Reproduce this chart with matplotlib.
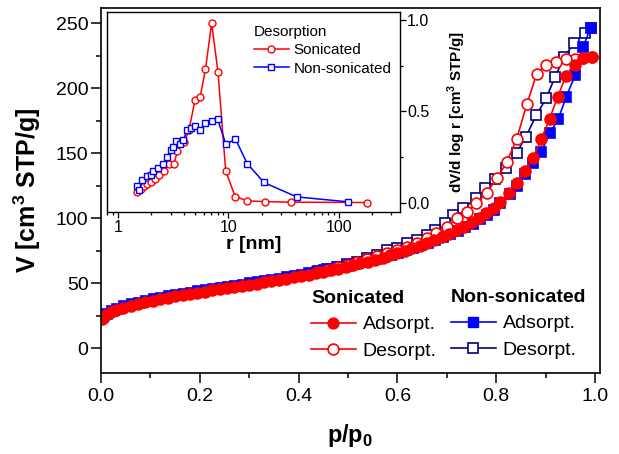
import numpy as np
import matplotlib
matplotlib.use('Agg')
from matplotlib import pyplot as plt
from matplotlib.ticker import MultipleLocator, FormatStrFormatter, FixedLocator, LogLocator, NullFormatter

plt.rcParams['font.family'] = ['Liberation Sans', 'DejaVu Sans']
plt.rcParams['mathtext.fontset'] = 'custom'
plt.rcParams['mathtext.rm'] = 'Liberation Sans'
plt.rcParams['mathtext.bf'] = 'Liberation Sans:bold'

# colours
red = '#FF0000'
blue = '#0000FF'
navy = '#000080'

# Isotherm, sonicated - adsorption
son_ads_p = [0.003, 0.01, 0.02, 0.03, 0.045, 0.06, 0.075, 0.09, 0.105, 0.12, 0.135, 0.15,
             0.165, 0.18, 0.195, 0.21, 0.225, 0.24, 0.255, 0.27, 0.285, 0.30, 0.315, 0.33,
             0.345, 0.36, 0.375, 0.39, 0.405, 0.42, 0.435, 0.45, 0.465, 0.48, 0.495, 0.51,
             0.525, 0.54, 0.555, 0.57, 0.585, 0.60, 0.615, 0.63, 0.645, 0.66, 0.675, 0.69,
             0.705, 0.72, 0.735, 0.75, 0.765, 0.78, 0.795, 0.808, 0.825, 0.841, 0.858, 0.875,
             0.891, 0.908, 0.924, 0.941, 0.960, 0.976, 0.993]
son_ads_v = [22.5, 25.5, 27.5, 29.0, 31.0, 32.6, 34.0, 35.3, 36.5, 37.7, 38.8, 39.8,
             40.8, 41.7, 42.6, 43.5, 44.3, 45.2, 46.0, 46.9, 47.8, 48.7, 49.6, 50.5,
             51.4, 52.4, 53.4, 54.4, 55.4, 56.5, 57.6, 58.7, 59.9, 61.1, 62.4, 63.7,
             65.1, 66.5, 68.0, 69.6, 71.2, 72.9, 74.7, 76.6, 78.6, 80.7, 82.9, 85.3,
             87.8, 90.5, 93.4, 96.6, 100.0, 103.6, 107.5, 112.0, 119.0, 127.0, 136.0, 146.4,
             160.5, 176.6, 192.8, 209.4, 218.0, 222.8, 224.0]

# Isotherm, sonicated - desorption
son_des_p = [0.993, 0.976, 0.960, 0.941, 0.921, 0.901, 0.882, 0.862, 0.841, 0.821, 0.801,
             0.781, 0.760, 0.740, 0.720, 0.700, 0.679, 0.659, 0.639, 0.619, 0.599, 0.579,
             0.559, 0.539, 0.519, 0.499, 0.479, 0.459, 0.440]
son_des_v = [224.0, 223.0, 222.5, 222.0, 220.2, 217.6, 211.2, 187.6, 160.5, 142.8, 130.5,
             119.5, 111.3, 104.8, 99.7, 93.3, 88.2, 84.4, 81.0, 78.0, 75.5, 73.0,
             70.5, 68.3, 66.2, 64.2, 62.2, 60.3, 58.6]

# Isotherm, non-sonicated - adsorption
non_ads_p = [0.005, 0.012, 0.022, 0.032, 0.047, 0.062, 0.077, 0.092, 0.107, 0.122, 0.137, 0.152,
             0.167, 0.182, 0.197, 0.212, 0.227, 0.242, 0.257, 0.272, 0.287, 0.302, 0.317, 0.332,
             0.347, 0.362, 0.377, 0.392, 0.407, 0.422, 0.437, 0.452, 0.467, 0.482, 0.497, 0.512,
             0.527, 0.542, 0.557, 0.572, 0.587, 0.602, 0.617, 0.632, 0.647, 0.662, 0.677, 0.692,
             0.707, 0.722, 0.737, 0.752, 0.767, 0.782, 0.795, 0.808, 0.827, 0.841, 0.858, 0.875,
             0.891, 0.909, 0.926, 0.941, 0.960, 0.976, 0.991]
non_ads_v = [23.8, 26.5, 28.4, 30.0, 32.0, 33.6, 35.0, 36.3, 37.5, 38.7, 39.8, 40.8,
             41.8, 42.7, 43.6, 44.5, 45.3, 46.2, 47.0, 47.9, 48.8, 49.7, 50.6, 51.5,
             52.4, 53.4, 54.4, 55.4, 56.4, 57.5, 58.6, 59.7, 60.9, 62.1, 63.3, 64.6,
             66.0, 67.4, 68.8, 70.3, 71.9, 73.5, 75.2, 77.0, 78.9, 80.9, 83.0, 85.2,
             87.6, 90.1, 92.8, 95.8, 99.0, 102.6, 106.5, 111.7, 118.4, 124.6, 133.8, 142.5,
             151.0, 165.6, 176.6, 192.8, 210.0, 231.7, 246.6]

# Isotherm, non-sonicated - desorption
non_des_p = [0.991, 0.980, 0.958, 0.938, 0.919, 0.901, 0.881, 0.860, 0.841, 0.820, 0.798,
             0.777, 0.759, 0.733, 0.713, 0.696, 0.676, 0.659, 0.639, 0.619, 0.599, 0.578,
             0.558, 0.538, 0.518, 0.498, 0.478, 0.458, 0.440]
non_des_v = [246.6, 242.5, 235.0, 224.0, 208.6, 192.0, 179.2, 162.5, 150.2, 138.2, 129.7,
             122.8, 115.1, 107.4, 102.3, 96.4, 90.7, 86.9, 83.0, 80.5, 76.7, 75.4,
             71.5, 69.0, 66.4, 64.5, 62.5, 60.5, 59.0]

# Inset: pore size distribution (desorption)
psd_son_r = [1.50, 1.60, 1.72, 1.85, 2.0, 2.15, 2.35, 2.6, 2.9, 3.2, 3.45, 3.7, 4.0,
             4.4, 5.0, 5.55, 6.2, 7.05, 8.05, 9.45, 11.5, 14.9, 21.4, 36.6, 180.0]
psd_son_v = [0.06, 0.075, 0.09, 0.10, 0.115, 0.13, 0.15, 0.175, 0.21, 0.21, 0.28, 0.33, 0.33,
             0.40, 0.565, 0.58, 0.73, 0.985, 0.716, 0.175, 0.033, 0.009, 0.005, 0.002, 0.0]
psd_non_r = [1.50, 1.56, 1.66, 1.82, 1.98, 2.09, 2.28, 2.55, 2.77, 3.01, 3.18, 3.37, 3.66,
             3.92, 4.21, 4.58, 5.01, 5.48, 6.17, 7.05, 8.0, 9.5, 11.6, 14.8, 21.0, 41.5, 120.0]
psd_non_v = [0.088, 0.07, 0.121, 0.148, 0.15, 0.172, 0.19, 0.209, 0.249, 0.286, 0.304, 0.337,
             0.319, 0.344, 0.396, 0.408, 0.421, 0.396, 0.434, 0.445, 0.456, 0.319, 0.348,
             0.214, 0.11, 0.031, 0.004]

fig = plt.figure(figsize=(6.19, 4.54), dpi=100)
ax = fig.add_axes([101/619, 1-373/454, 499/619, 365.5/454])

ms_c = 7.8
ms_s = 6.6
mew = 1.2
lw = 1.2
ax.plot(non_des_p, non_des_v, '-', color=navy, lw=lw, marker='s', ms=ms_s, mfc='white', mec=navy, mew=mew)
ax.plot(non_ads_p, non_ads_v, '-', color=blue, lw=lw, marker='s', ms=ms_s, mfc=blue, mec=blue, mew=mew)
ax.plot(son_des_p, son_des_v, '-', color=red, lw=lw, marker='o', ms=ms_c, mfc='white', mec=red, mew=mew)
ax.plot(son_ads_p, son_ads_v, '-', color=red, lw=lw, marker='o', ms=ms_c, mfc=red, mec=red, mew=mew)

ax.set_xlim(0, 1.01)
ax.set_ylim(-19.2, 262)
ax.xaxis.set_major_locator(MultipleLocator(0.2))
ax.xaxis.set_minor_locator(MultipleLocator(0.1))
ax.xaxis.set_major_formatter(FormatStrFormatter('%.1f'))
ax.yaxis.set_major_locator(MultipleLocator(50))
ax.yaxis.set_minor_locator(MultipleLocator(25))
ax.tick_params(which='both', direction='out', top=False, right=False, labelsize=14)
ax.tick_params(which='major', length=7, width=1.1)
ax.tick_params(which='minor', length=3.5, width=1.1)
ax.tick_params(axis='x', pad=4)
ax.tick_params(axis='y', pad=2)
for s in ax.spines.values():
    s.set_linewidth(1.2)
ax.set_xlabel('p/p$_{\\mathbf{0}}$', fontsize=17, fontweight='bold', labelpad=12)
ax.set_ylabel('V [cm$^{\\mathbf{3}}$ STP/g]', fontsize=18, fontweight='bold')
ax.yaxis.set_label_coords(-0.116, 0.5)

# legends (two columns)
h_sa, = ax.plot([], [], '-', color=red, lw=lw, marker='o', ms=ms_c, mfc=red, mec=red)
h_sd, = ax.plot([], [], '-', color=red, lw=lw, marker='o', ms=ms_c, mfc='white', mec=red, mew=mew)
h_na, = ax.plot([], [], '-', color=blue, lw=lw, marker='s', ms=ms_s, mfc=blue, mec=blue)
h_nd, = ax.plot([], [], '-', color=navy, lw=lw, marker='s', ms=ms_s, mfc='white', mec=navy, mew=mew)

leg_kw = dict(frameon=False, fontsize=14, handlelength=2.3, handletextpad=0.35,
              labelspacing=0.45, borderpad=0, borderaxespad=0, alignment='left',
              loc='upper left', bbox_transform=fig.transFigure,
              title_fontproperties={'weight': 'bold', 'size': 14})
leg1 = ax.legend([h_sa, h_sd], ['Adsorpt.', 'Desorpt.'], title='Sonicated',
                 bbox_to_anchor=(311/619, 1-290/454), **leg_kw)
ax.add_artist(leg1)
ax.legend([h_na, h_nd], ['Adsorpt.', 'Desorpt.'], title='Non-sonicated',
          bbox_to_anchor=(451/619, 1-289/454), **leg_kw)

# inset
axi = fig.add_axes([107/619, 1-212/454, 292.5/619, 200.3/454])
axi.plot(psd_son_r, psd_son_v, '-', color=red, lw=1.1, marker='o', ms=5, mfc='white', mec=red, mew=1.0,
         label='Sonicated')
axi.plot(psd_non_r, psd_non_v, '-', color=blue, lw=1.1, marker='s', ms=4.6, mfc='white', mec=blue, mew=1.0,
         label='Non-sonicated')
axi.set_xscale('log')
axi.set_xlim(0.795, 355)
axi.set_ylim(-0.052, 1.047)
axi.xaxis.set_major_locator(FixedLocator([1, 10, 100]))
axi.xaxis.set_major_formatter(FormatStrFormatter('%d'))
axi.xaxis.set_minor_locator(LogLocator(base=10, subs=np.arange(2, 10)))
axi.xaxis.set_minor_formatter(NullFormatter())
axi.yaxis.set_major_locator(MultipleLocator(0.5))
axi.yaxis.set_minor_locator(MultipleLocator(0.25))
axi.yaxis.set_major_formatter(FormatStrFormatter('%.1f'))
axi.yaxis.tick_right()
axi.yaxis.set_label_position('right')
axi.tick_params(which='both', direction='out', labelsize=11.5, pad=1.5, width=0.9)
axi.tick_params(which='major', length=4)
axi.tick_params(which='minor', length=2.2)
for s in axi.spines.values():
    s.set_linewidth(1.0)
axi.set_xlabel('r [nm]', fontsize=14, fontweight='bold', labelpad=1)
axi.set_ylabel('dV/d log r [cm$^{\\mathbf{3}}$ STP/g]', fontsize=11, fontweight='bold', labelpad=12)
axi.legend(title='Desorption', frameon=False, fontsize=11, title_fontsize=11,
           handlelength=2.3, handletextpad=0.3, labelspacing=0.3, borderpad=0,
           alignment='left', loc='upper left', bbox_transform=fig.transFigure,
           bbox_to_anchor=(246/619, 1-17/454))

fig.savefig('out.png', dpi=100)
